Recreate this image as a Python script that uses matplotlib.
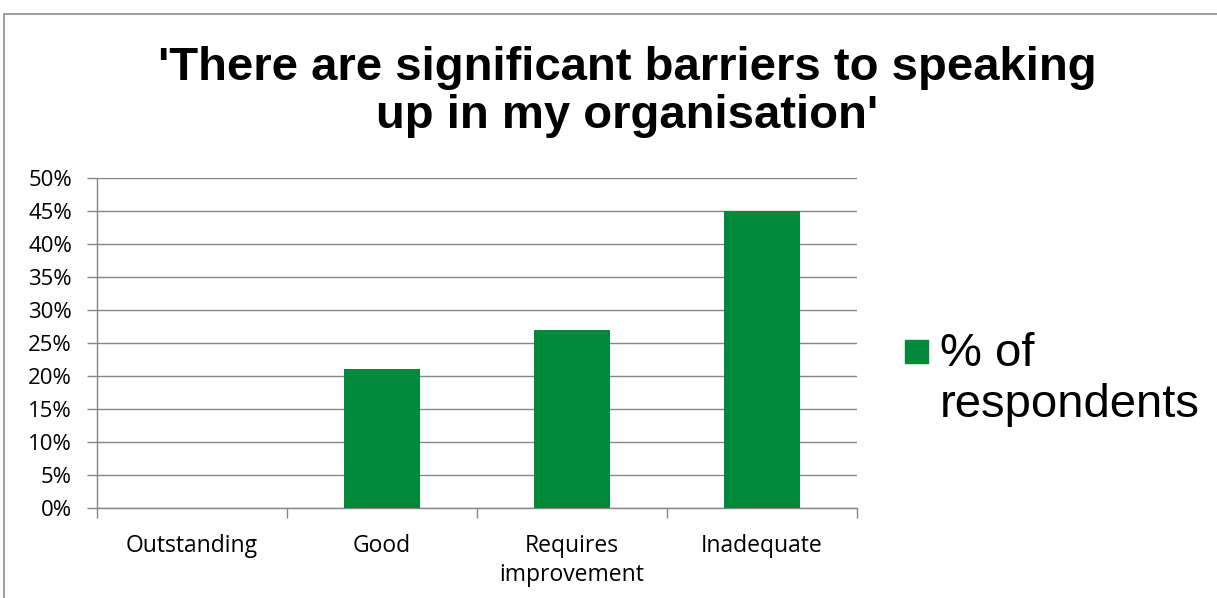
import numpy as np
import matplotlib
matplotlib.use("Agg")
import matplotlib.pyplot as plt
from matplotlib.patches import Rectangle

categories = ["Outstanding", "Good", "Requires\nimprovement", "Inadequate"]
values = [0, 21, 27, 45]
series_name = "% of\nrespondents"
title = "'There are significant barriers to speaking\nup in my organisation'"

W, H = 1217, 598
fig = plt.figure(figsize=(W / 100, H / 100), dpi=100, facecolor="white")

# outer chart border
fig.patches.append(Rectangle((4 / W, -0.01), 1.2, 1 - 14 / H + 0.01,
                             transform=fig.transFigure, fill=False,
                             edgecolor="#8c8c8c", linewidth=1.2))

ax = fig.add_axes([97 / W, (H - 508) / H, 760 / W, 330 / H])
x = np.arange(len(categories))
ax.bar(x, values, width=0.40, color="#00883B", zorder=3)

ax.set_xlim(-0.5, len(categories) - 0.5)
ax.set_ylim(0, 50)
ax.set_yticks(np.arange(0, 51, 5))
ax.set_yticklabels([f"{v}%" for v in range(0, 51, 5)],
                   fontfamily="Open Sans", fontsize=16)
ax.yaxis.grid(True, color="#868686", linewidth=1.0, zorder=0)

ax.set_xticks(np.arange(-0.5, len(categories), 1.0))
ax.set_xticklabels([])
ax.set_xticks(x, minor=True)
ax.set_xticklabels(categories, minor=True, fontfamily="Open Sans",
                   fontsize=16.5, linespacing=1.25)
ax.tick_params(axis="x", which="minor", length=0, pad=19)
ax.tick_params(axis="x", which="major", length=7, color="#868686", width=1)
ax.tick_params(axis="y", length=7, color="#868686", width=1, pad=11)

for s in ["top", "right"]:
    ax.spines[s].set_visible(False)
for s in ["left", "bottom"]:
    ax.spines[s].set_color("#868686")
    ax.spines[s].set_linewidth(1.0)

fig.text(627 / W, 1 - 46 / H, title, ha="center", va="top",
         fontfamily="Liberation Sans", fontweight="bold", fontsize=34,
         linespacing=1.12)

# legend
fig.patches.append(Rectangle((905 / W, 1 - 363 / H), 23 / W, 23 / H,
                             transform=fig.transFigure, color="#00883B"))
fig.text(940 / W, 1 - 332 / H, series_name, ha="left", va="top",
         fontfamily="Liberation Sans", fontsize=34, linespacing=1.22)

fig.savefig("out.png", dpi=100, facecolor="white")
